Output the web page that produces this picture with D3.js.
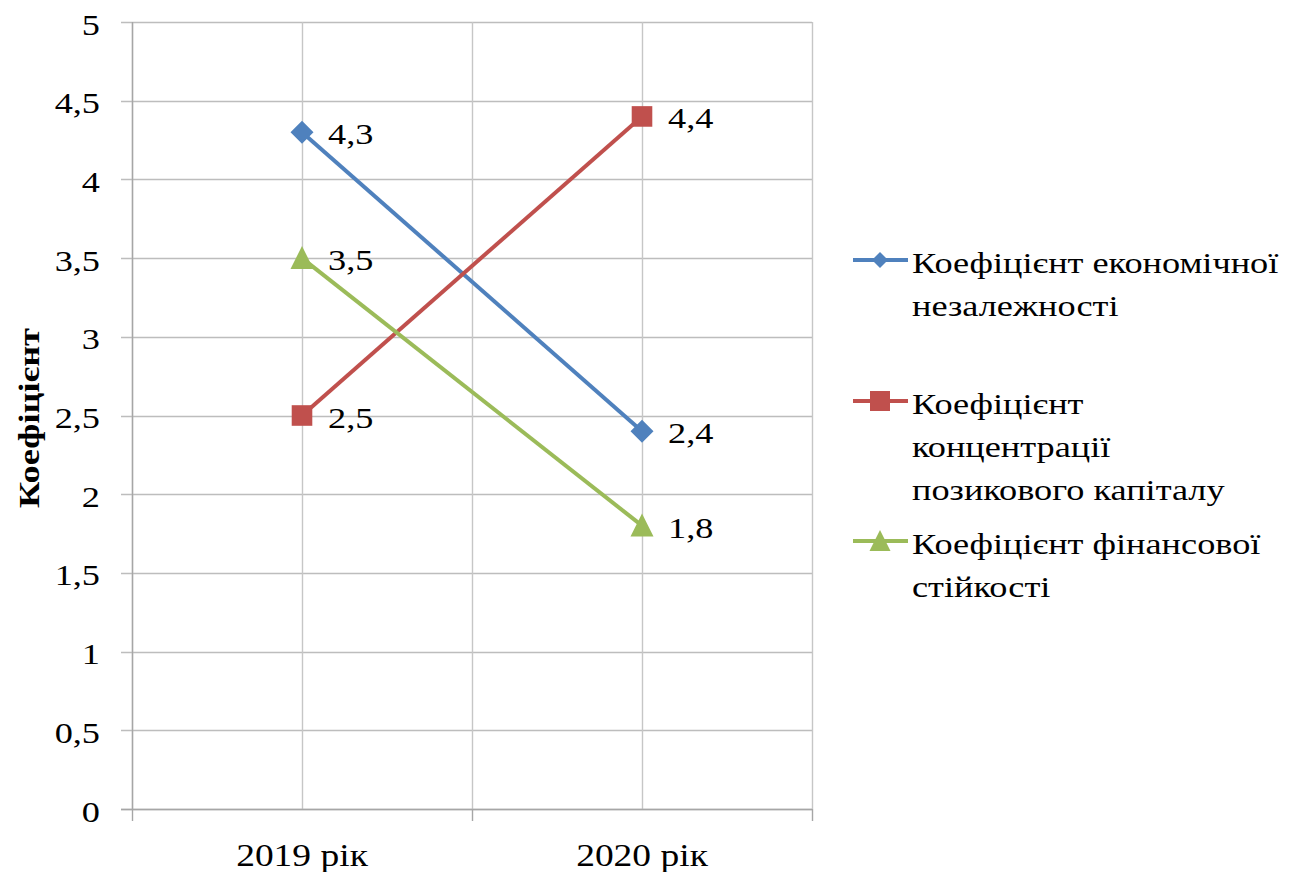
<!DOCTYPE html>
<html><head><meta charset="utf-8">
<script src="https://cdn.jsdelivr.net/npm/d3@7"></script>
</head><body><svg id="c" width="1305" height="872"></svg>
<script>
document.body.style.margin = "0";
document.getElementById("c").style.display = "block";

const categories = ["2019 рік", "2020 рік"];
const seriesNames = [
  ["Коефіцієнт економічної", "незалежності"],
  ["Коефіцієнт", "концентрації", "позикового капіталу"],
  ["Коефіцієнт фінансової", "стійкості"]
];
const economicIndependence = [4.3, 2.4];
const borrowedConcentration = [2.5, 4.4];
const financialStability = [3.5, 1.8];
const yTicks = [0, 0.5, 1, 1.5, 2, 2.5, 3, 3.5, 4, 4.5, 5];
const yTitle = "Коефіцієнт";
const colors = ["#4F81BD", "#C0504D", "#9BBB59"];

const series = [economicIndependence, borrowedConcentration, financialStability];
const FF = "Times New Roman";
const SX = 1.21;
const svg = d3.select("#c");
const L = 132, R = 812, T = 22, B = 809;
const x = d3.scaleBand().domain(categories).range([L, R]);
const cx = c => x(c) + x.bandwidth() / 2;
const y = d3.scaleLinear().domain([0, 5]).range([B, T]);
const fmt = v => String(v).replace(".", ",");

const diamond = { draw(ctx, s) { const r = Math.sqrt(s); ctx.moveTo(0, -r); ctx.lineTo(r, 0); ctx.lineTo(0, r); ctx.lineTo(-r, 0); ctx.closePath(); } };
const square = { draw(ctx, s) { const r = Math.sqrt(s); ctx.rect(-r, -r, 2 * r, 2 * r); } };
const triangle = { draw(ctx, s) { const r = Math.sqrt(s); ctx.moveTo(0, -r * 1.05); ctx.lineTo(r, r * 0.95); ctx.lineTo(-r, r * 0.95); ctx.closePath(); } };
const markerTypes = [diamond, square, triangle];
const markerSize = [11.5 * 11.5, 10.3 * 10.3, 11.5 * 11.5];
const legendMarkerSize = [8 * 8, 10 * 10, 10.5 * 10.5];

function stext(parent, tx, ty, str, opts = {}) {
  const g = parent.append("g").attr("transform", `translate(${tx},${ty}) scale(${SX},1)`);
  g.append("text").attr("x", 0).attr("y", 0)
    .attr("text-anchor", opts.anchor || "start")
    .attr("font-family", FF).attr("font-size", opts.size || 30)
    .attr("fill", "#000").text(str);
  return g;
}

svg.append("g").selectAll("line").data(yTicks).join("line")
  .attr("x1", L - 11).attr("x2", R).attr("y1", d => Math.round(y(d)) + 0.5).attr("y2", d => Math.round(y(d)) + 0.5)
  .attr("stroke", "#bdbdbd").attr("stroke-width", 1.4);
const vLines = [];
categories.forEach(c => { vLines.push(x(c)); vLines.push(cx(c)); });
vLines.push(R);
svg.append("g").selectAll("line").data(vLines).join("line")
  .attr("x1", d => d + 0.5).attr("x2", d => d + 0.5).attr("y1", T).attr("y2", B)
  .attr("stroke", "#c6c6c6").attr("stroke-width", 1.4);
svg.append("line").attr("x1", L + 0.5).attr("x2", L + 0.5).attr("y1", T).attr("y2", B)
  .attr("stroke", "#a6a6a6").attr("stroke-width", 1.4);
svg.append("line").attr("x1", L - 11).attr("x2", R).attr("y1", B + 0.5).attr("y2", B + 0.5)
  .attr("stroke", "#a6a6a6").attr("stroke-width", 1.6);
const xTickPos = categories.map(c => x(c)).concat([R]);
svg.append("g").selectAll("line").data(xTickPos).join("line")
  .attr("x1", d => d + 0.5).attr("x2", d => d + 0.5).attr("y1", B).attr("y2", B + 12)
  .attr("stroke", "#a6a6a6").attr("stroke-width", 1.4);

const yg = svg.append("g");
yTicks.forEach(t => stext(yg, 100, y(t) + 12.5, fmt(t), { anchor: "end" }));
const xg = svg.append("g");
categories.forEach(c => stext(xg, cx(c), 866, c, { anchor: "middle", size: 31 }));
svg.append("g").attr("transform", `translate(39,418) rotate(-90) scale(${SX},1)`)
  .append("text").attr("text-anchor", "middle").attr("font-family", FF).attr("font-size", 30)
  .attr("font-weight", "bold").attr("fill", "#000").text(yTitle);

const line = d3.line().x((d, i) => cx(categories[i])).y(d => y(d));
series.forEach((s, k) => {
  svg.append("path").datum(s).attr("d", line).attr("fill", "none")
    .attr("stroke", colors[k]).attr("stroke-width", 4);
  svg.append("g").selectAll("path").data(s).join("path")
    .attr("transform", (d, i) => `translate(${cx(categories[i])},${y(d)})`)
    .attr("d", d3.symbol().type(markerTypes[k]).size(markerSize[k])).attr("fill", colors[k]);
  const lg = svg.append("g");
  s.forEach((d, i) => stext(lg, cx(categories[i]) + 26, y(d) + 12, fmt(d)));
});

const legendY = [260, 401, 541];
const lineH = 43;
seriesNames.forEach((lines, k) => {
  const g = svg.append("g").attr("transform", `translate(0,${legendY[k]})`);
  g.append("line").attr("x1", 853).attr("x2", 908).attr("y1", 0).attr("y2", 0)
    .attr("stroke", colors[k]).attr("stroke-width", 4);
  g.append("path").attr("transform", `translate(880,0)`)
    .attr("d", d3.symbol().type(markerTypes[k]).size(legendMarkerSize[k])).attr("fill", colors[k]);
  lines.forEach((t, j) => stext(g, 912, 13 + j * lineH, t));
});
</script></body></html>
